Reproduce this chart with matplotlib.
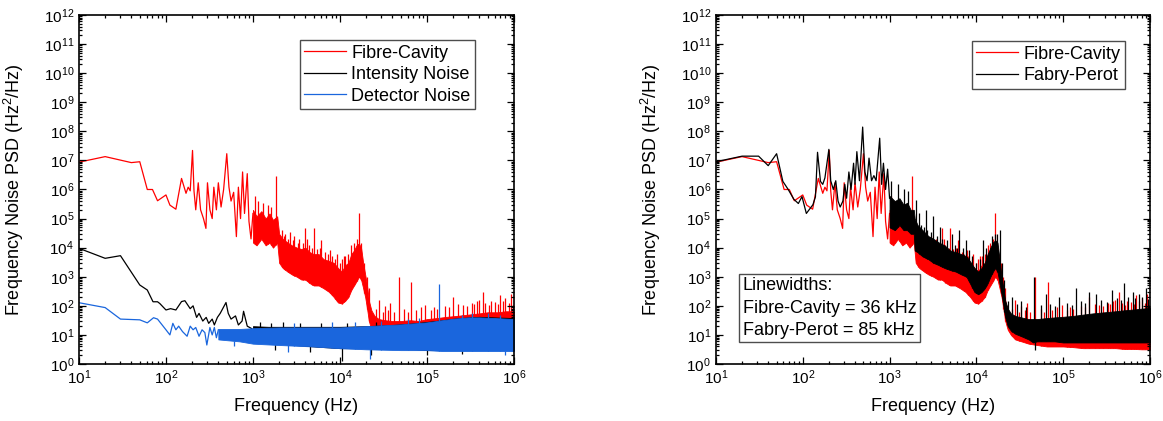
import numpy as np
import matplotlib
matplotlib.use('Agg')
import matplotlib.pyplot as plt
from matplotlib.ticker import LogLocator, NullFormatter

plt.rcParams['font.family'] = ['Liberation Sans', 'DejaVu Sans']
plt.rcParams['mathtext.fontset'] = 'custom'
plt.rcParams['mathtext.rm'] = 'Liberation Sans'
plt.rcParams['mathtext.it'] = 'Liberation Sans:italic'
plt.rcParams['mathtext.bf'] = 'Liberation Sans:bold'

# ---- Fibre-Cavity (red), used in both panels ----
fc_f = [10, 20, 40, 50, 61, 70, 80, 100, 111, 130, 151, 170, 180, 190, 202, 210, 220, 235, 250, 270,
        288, 300, 320, 340, 355, 380, 400, 430, 460, 500, 530, 560, 600, 645, 680, 720, 760, 800, 860,
        900, 950, 1000]
fc_v = [8.7e6, 1.35e7, 8.4e6, 9e6, 1e6, 1e6, 4.1e5, 6.5e5, 2.9e5, 2.1e5, 2.4e6, 7.4e5, 1.2e6, 9e5, 2.2e7,
        9e5, 2e5, 1.7e6, 2e5, 1e5, 4.6e4, 1.7e6, 2e5, 1e5, 1.2e6, 2e5, 1.7e6, 2.5e5, 1e6, 1.7e7, 1.2e6,
        4e5, 8e5, 2.4e4, 1.2e6, 1e5, 4e6, 1.5e5, 3.5e6, 8e4, 2e4, 1.5e5]
fc_band_f = [1000, 1100, 1250, 1400, 1550, 1700, 1900, 2000, 2200, 2500, 2800, 3200, 3600, 4000, 4500,
             5000, 5700, 6500, 7500, 8500, 9500, 10500, 11500, 12500, 13500, 14500, 15500, 16500, 17500,
             18500, 19500, 20500, 21500, 23000, 25000, 28000, 33000, 40000, 50000, 65000, 80000, 1e5,
             1.3e5, 1.7e5, 2.2e5, 3e5, 4e5, 5e5, 6.5e5, 8e5, 1e6]
fc_band_hi = [2e5, 1.2e5, 1.8e5, 1e5, 1.5e5, 9e4, 1.2e5, 3e4, 2e4, 1.5e4, 1.2e4, 1e4, 9e3, 1e4, 7e3,
              6e3, 6e3, 4e3, 3.5e3, 3e3, 2e3, 1.5e3, 2.5e3, 3e3, 6e3, 8e3, 1.2e4, 1.4e4, 1e4,
              3e3, 1.2e3, 5e2, 1.5e2, 70, 45, 35, 32, 30, 30, 32, 30, 35,
              38, 42, 45, 50, 55, 60, 60, 65, 65]
fc_band_lo = [1.5e4, 1.2e4, 2e4, 1.2e4, 1.5e4, 1e4, 1.5e4, 3e3, 2e3, 1.5e3, 1.2e3, 1e3, 8e2, 8e2, 6e2,
              5e2, 5e2, 4e2, 3e2, 2e2, 1.3e2, 1.2e2, 1.5e2, 2e2, 3.5e2, 5e2, 7e2, 1e3, 8e2,
              4e2, 2e2, 80, 30, 15, 10, 7, 6, 5, 4.5, 4, 4, 4,
              3.8, 3.5, 3.5, 3.5, 3.5, 3.3, 3.3, 3.2, 3.2]
fc_spike_f = [1050, 1150, 1300, 1480, 1620, 1820, 2150, 2350, 2650, 3000, 3400, 4000, 4200, 5000, 6100,
              7700, 9200, 11000, 16600, 28000, 33000, 38000, 48000, 66000, 96000, 1.2e5, 2e5, 2.6e5,
              3.3e5, 4e5, 4.4e5, 5.5e5, 6.9e5, 8e5, 9.3e5,
              2300, 2550, 2900, 3300, 3800, 4400, 4800, 5400, 5900, 6800, 7200, 8000, 8800, 10000,
              10500, 11500, 12500, 13500, 14500, 15500, 17500, 19000, 20500, 21500,
              26000, 31000, 36000, 42000, 55000, 60000, 75000, 85000, 1.1e5, 1.3e5, 1.6e5, 1.8e5,
              2.3e5, 2.9e5, 3.5e5, 3.8e5, 4.7e5, 5.2e5, 6e5, 6.5e5, 7.5e5, 8.8e5, 9.7e5]
fc_spike_v = [6e5, 4e5, 3.5e5, 3e5, 2.5e5, 2.8e6, 4e4, 3e4, 3.5e4, 2.5e4, 2e4, 4.7e4, 2e4, 4.7e4, 1.8e4,
              8e3, 6e3, 5e3, 1.5e5, 160, 100, 130, 1e3, 680, 107, 90, 200, 110,
              130, 160, 310, 150, 240, 180, 250,
              2.5e4, 2e4, 1.8e4, 1.5e4, 1.4e4, 1.2e4, 1e4, 9e3, 1e4, 7e3, 6e3, 5e3, 4e3, 3e3,
              4e3, 5e3, 6e3, 1.2e4, 1.5e4, 2e4, 1.5e4, 3e3, 1e3, 4e2,
              80, 60, 70, 60, 80, 60, 70, 90, 70, 80, 100, 90,
              120, 100, 120, 150, 130, 110, 140, 120, 150, 130, 110]

# ---- Intensity Noise (black, left panel) ----
in_f = [10, 20, 30, 50, 61, 71, 80, 85, 100, 113, 130, 151, 165, 190, 205, 225, 240, 265, 290, 310,
        340, 360, 390, 420, 490, 520, 560, 630, 680, 750, 780, 860, 950, 1000]
in_v = [9.5e3, 4.3e3, 5.3e3, 520, 350, 138, 138, 120, 72, 80, 72, 140, 150, 80, 100, 40, 55, 30, 40, 25,
        35, 22, 40, 55, 130, 55, 35, 45, 22, 30, 65, 20, 17, 15]
in_band_f = [1000, 1500, 2000, 3000, 5000, 1e4, 2e4, 4e4, 7e4, 1e5, 1.5e5, 2e5, 3e5, 4e5, 6e5, 1e6]
in_band_hi = [20, 19, 19, 19, 19, 19, 20, 22, 25, 28, 32, 36, 40, 42, 40, 38]
in_band_lo = [8, 6, 5, 4.5, 4, 3.5, 3.5, 3.3, 3.2, 3, 3, 3, 3, 3, 3, 3]
in_spike_f = [1800, 4500, 10500, 2.3e4, 1e5, 2.5e5, 1200, 1600, 2200, 3500, 6000, 1.2e4, 2.6e4]
in_spike_v = [3, 2.5, 1.3, 2, 2, 2.2, 28, 26, 27, 25, 25, 26, 27]

# ---- Detector Noise (blue, left panel) ----
dn_f = [10, 20, 30, 50, 61, 72, 80, 100, 111, 120, 130, 140, 155, 175, 190, 205, 220, 240, 260, 280,
        295, 320, 340, 360, 380, 400]
dn_v = [128, 87, 35, 33, 26, 39, 35, 15, 10, 25, 15, 20, 13, 9, 20, 15, 18, 9, 15, 12,
        4.5, 18, 10, 18, 8, 15]
dn_band_f = [400, 700, 1000, 2000, 5000, 1e4, 2e4, 5e4, 1e5, 1.5e5, 2e5, 3e5, 4e5, 6e5, 1e6]
dn_band_hi = [16, 16, 17, 18, 18, 18, 20, 23, 27, 32, 36, 40, 40, 38, 35]
dn_band_lo = [7, 6, 5, 4.5, 4, 3.5, 3.2, 3, 3, 2.8, 2.8, 2.8, 2.8, 2.8, 2.8]
dn_spike_f = [600, 2500, 2.2e4, 1.38e5, 8e5, 3000, 8000, 1.5e4, 3e4, 6e4, 8e4, 2.5e5, 3.3e5, 5e5, 7e5]
dn_spike_v = [4, 2.5, 1.5, 560, 2, 25, 27, 28, 30, 35, 38, 50, 55, 55, 50]

# ---- Fabry-Perot (black, right panel) ----
fp_f = [10, 20, 31, 40, 50, 59, 68, 79, 89, 98, 110, 131, 140, 148, 160, 170, 180, 200, 210, 225,
        240, 255, 270, 290, 305, 320, 340, 360, 385, 400, 420, 450, 490, 520, 550, 580, 620, 660, 700,
        770, 810, 850, 900, 950, 1000]
fp_v = [9e6, 1.4e7, 1.4e7, 6.6e6, 1.7e7, 1.9e6, 1e6, 4.6e5, 3.3e5, 5.7e5, 1.5e5, 3e5, 5.6e5, 1.9e7,
        1.9e6, 1.5e6, 2.5e6, 2.4e7, 2e6, 1e6, 2e6, 4e5, 2.5e5, 4e5, 1.5e6, 5e5, 4e6, 1e6, 8e6, 1.5e6,
        2e7, 2e6, 1.4e8, 4e6, 2e6, 1.2e7, 2e6, 3e6, 2e6, 5.8e7, 1.5e6, 8e6, 1e6, 5e6, 5e5]
fp_band_f = [1000, 1150, 1300, 1450, 1600, 1750, 1900, 1950, 2100, 2400, 2800, 3200, 3700, 4300, 5000,
             5800, 6700, 7700, 8700, 9500, 10500, 11500, 12500, 13500, 14500, 15500, 16500, 17500,
             18500, 19500, 20500, 21500, 23000, 25000, 28000, 33000, 40000, 45000, 50000, 65000,
             80000, 1e5, 1.3e5, 1.7e5, 2.2e5, 3e5, 4e5, 5e5, 6.5e5, 8e5, 1e6]
fp_band_hi = [6e5, 4e5, 5e5, 3e5, 3.5e5, 2e5, 2e5, 1e5, 6e4, 4e4, 2.5e4, 2e4, 1.5e4, 1.2e4, 8e3,
              7e3, 6e3, 5e3, 3e3, 2e3, 1.5e3, 2e3, 3e3, 6e3, 1e4, 1.5e4, 1.8e4, 1.5e4,
              4e3, 1e3, 4e2, 1.5e2, 80, 55, 45, 40, 35, 35, 35, 38,
              40, 42, 45, 50, 55, 60, 65, 70, 75, 80, 85]
fp_band_lo = [5e4, 4e4, 6e4, 4e4, 4e4, 3e4, 3e4, 8e3, 7e3, 5e3, 4e3, 3e3, 2.5e3, 2e3, 1.7e3,
              1.5e3, 1.2e3, 1e3, 5e2, 3e2, 2.5e2, 3e2, 4e2, 6e2, 1e3, 1.5e3, 2e3, 1.5e3,
              6e2, 2.5e2, 1e2, 40, 20, 14, 11, 9, 7, 5.5, 6, 6,
              6, 5.5, 5.5, 5.5, 5.5, 5.5, 5.5, 5.5, 5.5, 5.5, 5.5]
fp_spike_f = [1050, 1250, 1450, 1650, 2000, 2200, 2600, 3200, 3800, 5300, 6300, 7600, 1.2e4, 1.86e4,
              2.6e4, 3.3e4, 4.6e4, 4.75e4, 6.3e4, 9e4, 1.4e5, 2e5, 2.4e5, 3.7e5, 5e5, 6.3e5, 7.5e5, 9e5,
              2300, 2500, 2700, 3000, 3500, 4000, 4600, 5600, 6000, 7000, 8200, 9000, 10000, 11000,
              13000, 15000, 16500, 17500, 19500, 21000, 23000, 29000, 37000, 55000, 70000, 80000,
              1.1e5, 1.25e5, 1.6e5, 1.8e5, 2.7e5, 3.2e5, 4.2e5, 4.6e5, 5.6e5, 6.8e5, 8.2e5, 9.5e5]
fp_spike_v = [2e6, 1.5e6, 1e6, 9e5, 4.4e5, 1.5e5, 2e5, 1.2e5, 5e4, 3e4, 4e4, 1.8e4, 1.8e4, 4e4,
              200, 150, 1e3, 3, 250, 200, 400, 300, 250, 350, 600, 300, 250, 400,
              6e4, 5e4, 4e4, 3.5e4, 2.5e4, 2e4, 1.8e4, 1.2e4, 1e4, 1e4, 8e3, 5e3, 3e3, 4e3,
              1e4, 2.5e4, 3e4, 3e4, 3e3, 8e2, 150, 120, 90, 110, 120, 100,
              130, 110, 150, 130, 160, 140, 180, 160, 200, 180, 200, 170]

RED = '#ff0000'
BLACK = '#000000'
BLUE = '#1a66dd'


def draw_series(ax, f, v, bf, blo, bhi, sf, sv, color, label, z):
    ax.fill_between(bf, blo, bhi, color=color, lw=0.6, zorder=z)
    line, = ax.plot(f, v, color=color, lw=0.9, label=label, zorder=z + 0.1)
    # spikes start from the lower edge of the noise band
    base = 10 ** np.interp(np.log10(sf), np.log10(bf), np.log10(blo))
    ax.vlines(sf, base, sv, color=color, lw=0.9, zorder=z + 0.2)
    return line


def style_axes(ax):
    ax.set_xscale('log')
    ax.set_yscale('log')
    ax.set_xlim(10, 1e6)
    ax.set_ylim(1, 1e12)
    ax.xaxis.set_major_locator(LogLocator(base=10, numticks=20))
    ax.yaxis.set_major_locator(LogLocator(base=10, numticks=20))
    ax.xaxis.set_minor_locator(LogLocator(base=10, subs=np.arange(2, 10), numticks=100))
    ax.yaxis.set_minor_locator(LogLocator(base=10, subs=np.arange(2, 10), numticks=100))
    ax.xaxis.set_minor_formatter(NullFormatter())
    ax.yaxis.set_minor_formatter(NullFormatter())
    ax.tick_params(which='both', direction='in', top=True, right=True, width=0.9, labelsize=11)
    ax.tick_params(which='major', length=5)
    ax.tick_params(which='minor', length=2.5)
    for s in ax.spines.values():
        s.set_linewidth(1.2)
        s.set_zorder(10)
    ax.set_xlabel('Frequency (Hz)', fontsize=13)
    ax.set_ylabel('Frequency Noise PSD (Hz$^{\\mathregular{2}}$/Hz)', fontsize=13)
    ax.xaxis.set_label_coords(0.5, -0.097)
    ax.yaxis.set_label_coords(-0.122, 0.5)


fig = plt.figure(figsize=(11.63, 4.21), dpi=100)
ax1 = fig.add_axes([0.0679, 0.1354, 0.3740, 0.8290])
ax2 = fig.add_axes([0.6156, 0.1354, 0.3732, 0.8290])

# left panel
h1 = draw_series(ax1, fc_f, fc_v, fc_band_f, fc_band_lo, fc_band_hi, fc_spike_f, fc_spike_v, RED, 'Fibre-Cavity', 1)
h2 = draw_series(ax1, in_f, in_v, in_band_f, in_band_lo, in_band_hi, in_spike_f, in_spike_v, BLACK, 'Intensity Noise', 2)
h3 = draw_series(ax1, dn_f, dn_v, dn_band_f, dn_band_lo, dn_band_hi, dn_spike_f, dn_spike_v, BLUE, 'Detector Noise', 3)
style_axes(ax1)
leg = ax1.legend(handles=[h1, h2, h3], loc='upper right', bbox_to_anchor=(0.910, 0.928),
                 borderaxespad=0, fontsize=13, fancybox=False, framealpha=1,
                 handlelength=2.3, handletextpad=0.3, labelspacing=0.25, borderpad=0.25)
leg.get_frame().set_edgecolor('0.3')
leg.get_frame().set_linewidth(1.0)
leg.set_zorder(20)

# right panel
g1 = draw_series(ax2, fc_f, fc_v, fc_band_f, fc_band_lo, fc_band_hi, fc_spike_f, fc_spike_v, RED, 'Fibre-Cavity', 1)
g2 = draw_series(ax2, fp_f, fp_v, fp_band_f, fp_band_lo, fp_band_hi, fp_spike_f, fp_spike_v, BLACK, 'Fabry-Perot', 2)
style_axes(ax2)
leg2 = ax2.legend(handles=[g1, g2], loc='upper right', bbox_to_anchor=(0.942, 0.925),
                  borderaxespad=0, fontsize=13, fancybox=False, framealpha=1,
                  handlelength=2.3, handletextpad=0.3, labelspacing=0.25, borderpad=0.25)
leg2.get_frame().set_edgecolor('0.3')
leg2.get_frame().set_linewidth(1.0)
leg2.set_zorder(20)

ax2.text(0.062, 0.072, 'Linewidths:\nFibre-Cavity = 36 kHz\nFabry-Perot = 85 kHz',
         transform=ax2.transAxes, fontsize=13, ha='left', va='bottom', linespacing=1.4, zorder=20,
         bbox=dict(boxstyle='square,pad=0.2', fc='white', ec='0.3', lw=1.0))

fig.savefig('out.png', dpi=100)
